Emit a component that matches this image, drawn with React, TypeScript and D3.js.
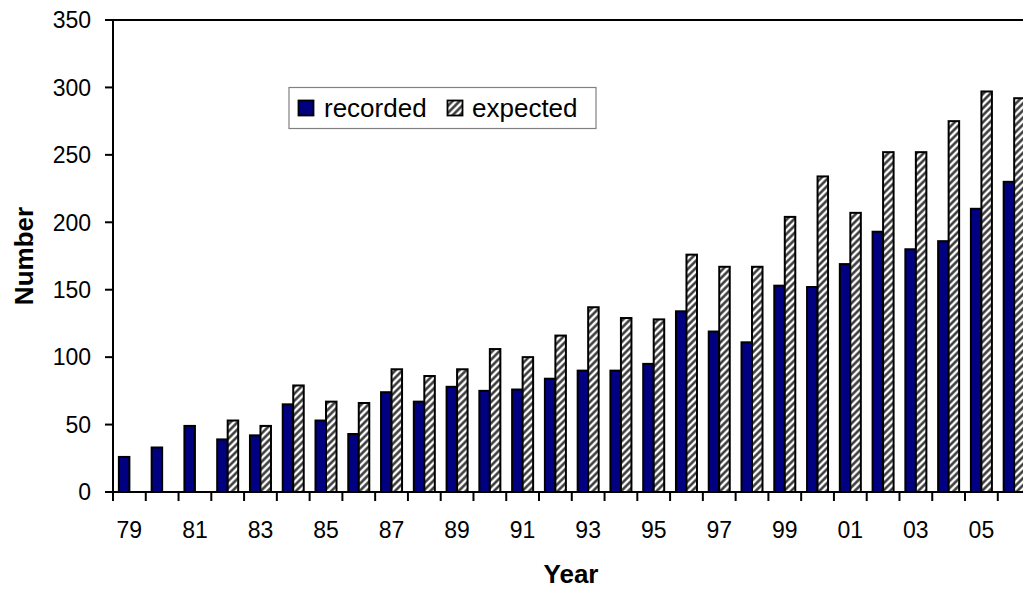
import React from "react";
import { scaleBand, scaleLinear } from "d3";

const years = ["79", "80", "81", "82", "83", "84", "85", "86", "87", "88", "89", "90", "91", "92",
  "93", "94", "95", "96", "97", "98", "99", "00", "01", "02", "03", "04", "05", "06"];
const recorded = [26, 33, 49, 39, 42, 65, 53, 43, 74, 67, 78, 75, 76, 84,
  90, 90, 95, 134, 119, 111, 153, 152, 169, 193, 180, 186, 210, 230];
const expected = [null, null, null, 53, 49, 79, 67, 66, 91, 86, 91, 106, 100, 116,
  137, 129, 128, 176, 167, 167, 204, 234, 207, 252, 252, 275, 297, 292];
const yTicks = [0, 50, 100, 150, 200, 250, 300, 350];
const seriesNames = ["recorded", "expected"];

const W = 1023;
const H = 589;
const left = 113;
const top = 20;
const bottom = 492;
const step = 32.77;
const font = "'Liberation Sans', Arial, sans-serif";

export default function App() {
  const x = scaleBand().domain(years).range([left, left + step * years.length]);
  const inner = scaleBand().domain(seriesNames).range([0, x.bandwidth()]).paddingOuter(0.56);
  const y = scaleLinear().domain([0, 350]).range([bottom, top]);

  return (
    <div style={{ position: "absolute", left: 0, top: 0 }}>
      <svg width={W} height={H} style={{ display: "block", background: "#fff" }}>
        <defs>
          <pattern id="hatch" patternUnits="userSpaceOnUse" width="5" height="5" patternTransform="rotate(45)">
            <rect width="5" height="5" fill="#fff" />
            <line x1="1.5" y1="0" x2="1.5" y2="5" stroke="#2e2e2e" strokeWidth="2.4" />
          </pattern>
        </defs>

        {/* plot area border (top) */}
        <line x1={left} x2={W + 20} y1={top} y2={top} stroke="#000" strokeWidth={2} />

        {/* bars */}
        {years.map((yr, i) => (
          <g key={yr}>
            <rect
              x={x(yr)! + inner("recorded")!}
              y={y(recorded[i])}
              width={inner.bandwidth()}
              height={bottom - y(recorded[i])}
              fill="#000080"
              stroke="#000"
              strokeWidth={2}
            />
            {expected[i] != null && (
              <rect
                x={x(yr)! + inner("expected")!}
                y={y(expected[i] as number)}
                width={inner.bandwidth()}
                height={bottom - y(expected[i] as number)}
                fill="url(#hatch)"
                stroke="#000"
                strokeWidth={2}
              />
            )}
          </g>
        ))}

        {/* y axis */}
        <line x1={left} x2={left} y1={top - 1} y2={bottom + 1} stroke="#000" strokeWidth={2} />
        {yTicks.map((t) => (
          <g key={t}>
            <line x1={left - 8} x2={left} y1={y(t)} y2={y(t)} stroke="#000" strokeWidth={2} />
            <text x={91} y={y(t)} dy="0.36em" textAnchor="end" fontFamily={font} fontSize={23}>
              {t}
            </text>
          </g>
        ))}

        {/* x axis */}
        <line x1={left - 1} x2={W + 20} y1={bottom} y2={bottom} stroke="#000" strokeWidth={2} />
        {years.map((yr) => (
          <line key={yr} x1={x(yr)!} x2={x(yr)!} y1={bottom} y2={bottom + 9} stroke="#000" strokeWidth={2} />
        ))}
        {years.map((yr, i) =>
          i % 2 === 0 ? (
            <text
              key={yr}
              x={x(yr)! + x.bandwidth() / 2}
              y={538}
              textAnchor="middle"
              fontFamily={font}
              fontSize={23}
            >
              {yr}
            </text>
          ) : null
        )}

        {/* axis titles */}
        <text x={571} y={583} textAnchor="middle" fontFamily={font} fontSize={26} fontWeight="bold">
          Year
        </text>
        <text
          transform="translate(33,256) rotate(-90)"
          textAnchor="middle"
          fontFamily={font}
          fontSize={26}
          fontWeight="bold"
        >
          Number
        </text>

        {/* legend */}
        <rect x={289} y={87.5} width={307} height={41} fill="#fff" stroke="#808080" strokeWidth={1.2} />
        <rect x={298.5} y={100.5} width={15} height={15} fill="#000080" stroke="#000" strokeWidth={1.8} />
        <text x={324} y={117} fontFamily={font} fontSize={26}>recorded</text>
        <rect x={447.5} y={100.5} width={15} height={15} fill="url(#hatch)" stroke="#000" strokeWidth={1.8} />
        <text x={472} y={117} fontFamily={font} fontSize={26}>expected</text>
      </svg>
    </div>
  );
}
